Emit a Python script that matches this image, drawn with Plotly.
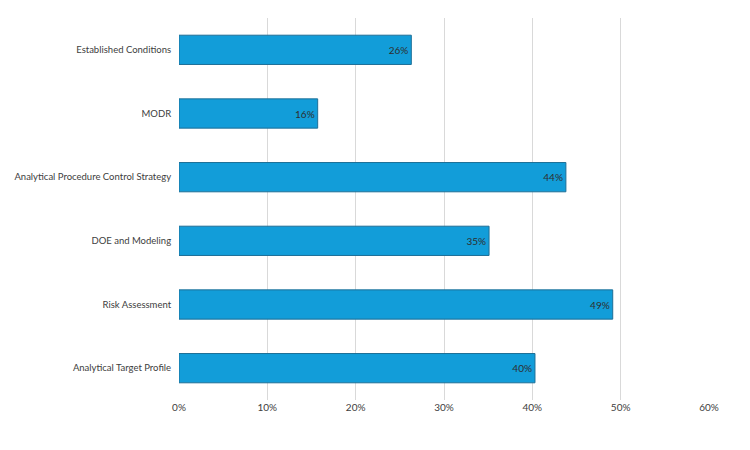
import plotly.graph_objects as go

categorias = ['Analytical Target Profile', 'Risk Assessment', 'DOE and Modeling',
              'Analytical Procedure Control Strategy', 'MODR', 'Established Conditions']
valores = [0.403, 0.491, 0.351, 0.438, 0.157, 0.263]
ticks = [0, 0.1, 0.2, 0.3, 0.4, 0.5, 0.6]
tick_labels = ['0%', '10%', '20%', '30%', '40%', '50%', '60%']

fig = go.Figure(go.Bar(
    x=valores,
    y=categorias,
    orientation='h',
    marker=dict(color='#129dd9', line=dict(color='#1d6f97', width=1)),
    texttemplate='%{x:.0%}',
    textposition='inside',
    insidetextanchor='end',
    textfont=dict(color='#2e2e2e', size=10),
    width=0.46,
))

fig.update_layout(
    width=750, height=450,
    margin=dict(l=171, r=49, t=10, b=58),
    paper_bgcolor='white', plot_bgcolor='white',
    font=dict(family='Lato', size=9.5, color='#404040'),
    showlegend=False,
    xaxis=dict(range=[0, 0.6], tickvals=ticks, ticktext=tick_labels,
               showgrid=True, gridcolor='#d9d9d9', gridwidth=1,
               zeroline=False, showline=False, ticks='', ticklen=0,
               tickfont=dict(size=10)),
    yaxis=dict(showgrid=False, zeroline=False, showline=False, ticks='outside',
               ticklen=5, tickcolor='white', automargin=False),
)

fig.write_html("out.html")
